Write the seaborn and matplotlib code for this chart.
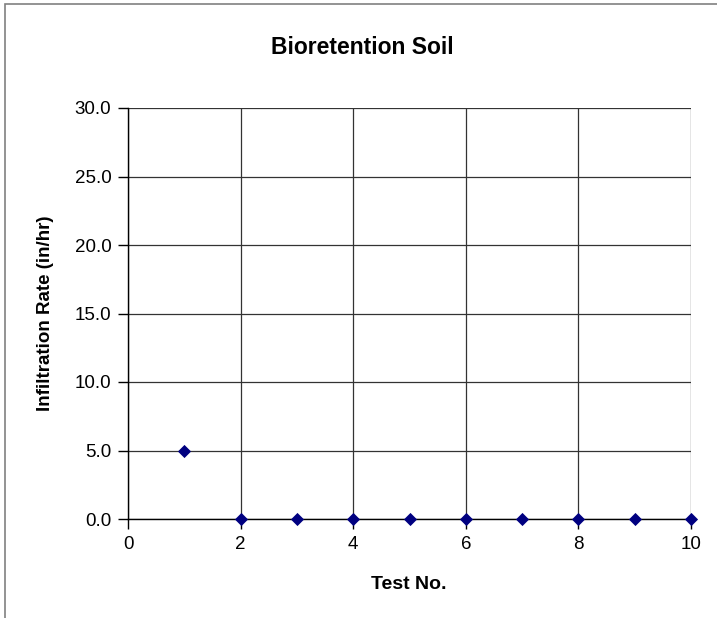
import numpy as np
import pandas as pd
import matplotlib
matplotlib.use("Agg")
import matplotlib.pyplot as plt
import seaborn as sns

sns.set_style("white")
plt.rcParams['font.family'] = ['Liberation Sans', 'DejaVu Sans']
plt.rcParams['text.color'] = 'black'
plt.rcParams['axes.labelcolor'] = 'black'
plt.rcParams['xtick.color'] = 'black'
plt.rcParams['ytick.color'] = 'black'

# data
test_no = [1, 2, 3, 4, 5, 6, 7, 8, 9, 10]
infiltration = [5.0, 0.0, 0.0, 0.0, 0.0, 0.0, 0.0, 0.0, 0.0, 0.0]
x_ticks = [0, 2, 4, 6, 8, 10]
y_ticks = [0, 5, 10, 15, 20, 25, 30]

df = pd.DataFrame({"Test No.": test_no, "Rate": infiltration})

fig = plt.figure(figsize=(7.17, 6.18), dpi=100)
ax = fig.add_axes([128 / 717, 1 - 519 / 618, (691 - 128) / 717, (519 - 108) / 618])

# outer chart border (only top and left visible in the reference)
fig.patches.append(plt.Rectangle((5 / 717, -0.1), 1.2, 1 - 4 / 618 + 0.1,
                                 transform=fig.transFigure, fill=False,
                                 edgecolor="#808080", linewidth=1.2))

sns.scatterplot(data=df, x="Test No.", y="Rate", ax=ax, marker="D", s=45,
                color="#000080", edgecolor="#000080", linewidth=0, zorder=5,
                clip_on=False)

ax.set_xlim(0, 10)
ax.set_ylim(0, 30)
ax.set_xticks(x_ticks)
ax.set_yticks(y_ticks)
ax.set_yticklabels([f"{v:.1f}" for v in y_ticks])
ax.tick_params(axis="both", labelsize=13.5, direction="out", length=7,
               width=1, color="black", bottom=True, left=True, pad=5)
ax.grid(True, color="#333333", linewidth=0.9)
ax.set_axisbelow(True)
for side in ["top", "right"]:
    ax.spines[side].set_visible(False)
for side in ["left", "bottom"]:
    ax.spines[side].set_color("black")
    ax.spines[side].set_linewidth(1)

ax.set_xlabel("Test No.", fontsize=14, fontweight="bold")
ax.set_ylabel("Infiltration Rate (in/hr)", fontsize=13.5, fontweight="bold")
ax.xaxis.set_label_coords((409 - 128) / 563, (519 - 576) / 411)
ax.yaxis.set_label_coords((54 - 128) / 563, 0.5)
fig.text(362 / 717, 1 - 48 / 618, "Bioretention Soil", ha="center", va="center",
         fontsize=16.5, fontweight="bold")

fig.savefig("out.png", dpi=100)
